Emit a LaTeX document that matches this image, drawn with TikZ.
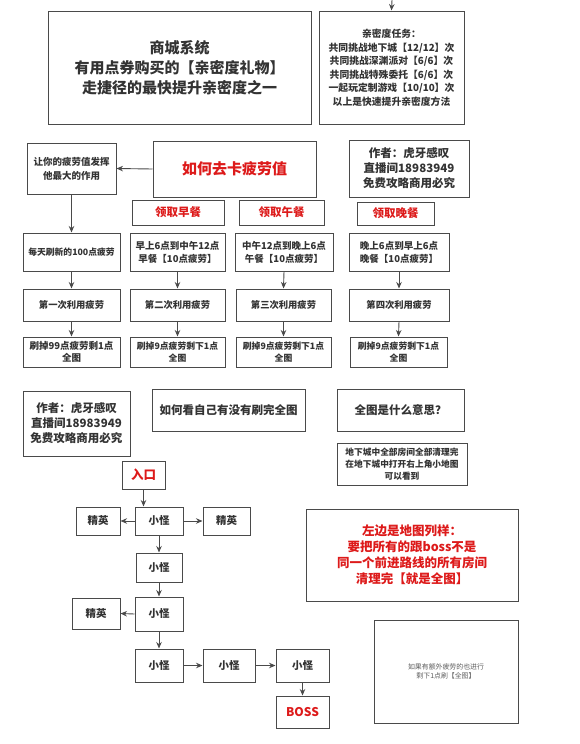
\documentclass[tikz,border=0pt]{standalone}
\usepackage{fontspec}
\setmainfont{Noto Sans CJK SC}
\usetikzlibrary{arrows.meta}
\definecolor{ln}{HTML}{4A4A4A}
\definecolor{tx}{HTML}{333333}
\definecolor{rd}{HTML}{DD1A1A}
\tikzset{
  bx/.style={draw=ln,line width=1pt,inner sep=0pt,align=center,text=tx,font=\bfseries},
  fs/.style 2 args={font={\fontsize{#1}{#2}\selectfont\bfseries}},
  red/.style={text=rd},
  arr/.style={draw=ln,line width=0.9pt,-{Stealth[length=6.5pt,width=5.5pt]}}
}
\newcommand{\bxat}[6]{\node[bx,minimum width=#4pt,minimum height=#5pt,#6] (#1) at (#2,#3)}
\begin{document}
\begin{tikzpicture}[x=1pt,y=-1pt]
\useasboundingbox (0,0) rectangle (580,744);
\fill[white] (0,0) rectangle (580,744);
% top
\bxat{shop}{179.5}{67.5}{263}{113}{fs={15}{20}}{商城系统\\有用点券购买的【亲密度礼物】\\走捷径的最快提升亲密度之一};
\bxat{task}{391.5}{67.5}{145}{113}{fs={9.8}{13.5}}{亲密度任务：\\共同挑战地下城【12/12】次\\共同挑战深渊派对【6/6】次\\共同挑战特殊委托【6/6】次\\一起玩定制游戏【10/10】次\\以上是快速提升亲密度方法};
\coordinate (top) at (392,0);
\draw[arr] (top) -- (task.north);
% row 2
\bxat{use}{71.5}{168.5}{89}{51}{fs={9.5}{14}}{让你的疲劳值发挥\\他最大的作用};
\bxat{how}{234.5}{169}{163}{56}{fs={15}{18},red}{如何去卡疲劳值};
\bxat{auth}{409}{168.5}{120}{57}{fs={11.5}{15}}{作者：虎牙感叹\\直播间18983949\\免费攻略商用必究};
\bxat{lb}{178}{212.5}{92}{25}{fs={11.5}{14},red}{领取早餐};
\bxat{ll}{281.5}{212.5}{85}{25}{fs={11.5}{14},red}{领取午餐};
\bxat{ld}{395.5}{213.5}{77}{23}{fs={11.5}{14},red}{领取晚餐};
\draw[arr] (how.west) -- (use.east);
% row 3
\bxat{a3}{71.5}{252}{97}{38}{fs={8.8}{12}}{每天刷新的100点疲劳};
\bxat{b3}{177.5}{252}{95}{38}{fs={9.5}{13}}{早上6点到中午12点\\早餐【10点疲劳】};
\bxat{c3}{284}{252}{98}{38}{fs={9.5}{13}}{中午12点到晚上6点\\午餐【10点疲劳】};
\bxat{d3}{399}{252}{100}{38}{fs={9.5}{13}}{晚上6点到早上6点\\晚餐【10点疲劳】};
% row 4
\bxat{a4}{71.5}{305}{97}{32}{fs={9.3}{12}}{第一次利用疲劳};
\bxat{b4}{177.5}{305}{95}{32}{fs={9.3}{12}}{第二次利用疲劳};
\bxat{c4}{283.5}{305}{95}{32}{fs={9.3}{12}}{第三次利用疲劳};
\bxat{d4}{399}{305}{100}{32}{fs={9.3}{12}}{第四次利用疲劳};
% row 5
\bxat{a5}{71.5}{352}{97}{30}{fs={9.5}{12}}{刷掉99点疲劳剩1点\\全图};
\bxat{b5}{177.5}{352}{95}{30}{fs={8.8}{12}}{刷掉9点疲劳剩下1点\\全图};
\bxat{c5}{283.5}{352}{95}{30}{fs={8.8}{12}}{刷掉9点疲劳剩下1点\\全图};
\bxat{d5}{398.5}{352}{97}{30}{fs={8.8}{12}}{刷掉9点疲劳剩下1点\\全图};
\draw[arr] (use.south) -- (a3.north);
\foreach \c in {a,b,c,d}{
  \draw[arr] (\c3.south) -- (\c4.north);
  \draw[arr] (\c4.south) -- (\c5.north);
}
% lower section
\bxat{auth2}{76.5}{423.5}{107}{65}{fs={11.5}{15}}{作者：虎牙感叹\\直播间18983949\\免费攻略商用必究};
\bxat{check}{228.5}{410}{153}{42}{fs={11.5}{14}}{如何看自己有没有刷完全图};
\bxat{mean}{400.5}{410}{127}{42}{fs={11.5}{14}}{全图是什么意思？};
\bxat{desc}{402}{464}{130}{42}{fs={8.7}{12}}{地下城中全部房间全部清理完\\在地下城中打开右上角小地图\\可以看到};
\bxat{entry}{143.5}{475}{43}{28}{fs={12.5}{14},red}{入口};
\bxat{m1}{159}{521}{48}{28}{fs={10.5}{12}}{小怪};
\bxat{eL}{98}{521}{44}{28}{fs={10.5}{12}}{精英};
\bxat{eR}{226.5}{521}{47}{28}{fs={10.5}{12}}{精英};
\bxat{m2}{159}{567.5}{46}{29}{fs={10.5}{12}}{小怪};
\bxat{m3}{159}{614}{48}{34}{fs={10.5}{12}}{小怪};
\bxat{e3}{96}{613.5}{48}{31}{fs={10.5}{12}}{精英};
\bxat{m4}{159}{665.5}{48}{33}{fs={10.5}{12}}{小怪};
\bxat{m5}{229}{665.5}{52}{33}{fs={10.5}{12}}{小怪};
\bxat{m6}{302.5}{665.5}{53}{33}{fs={10.5}{12}}{小怪};
\bxat{boss}{302.5}{712}{53}{32}{fs={12}{14},red}{BOSS};
\bxat{note}{412}{555}{212}{92}{fs={12.5}{16},red}{左边是地图列样：\\要把所有的跟boss不是\\同一个前进路线的所有房间\\清理完【就是全图】};
\node[draw=ln,line width=1pt,inner sep=0pt,minimum width=144pt,minimum height=103pt,align=center,text=tx!80,font={\fontsize{6.9}{9}\selectfont}] (final) at (446,671.5) {如果有额外疲劳的也进行\\剩下1点刷【全图】};
\draw[arr] (entry.south) -- (entry.south |- m1.north);
\draw[arr] (m1.west) -- (eL.east);
\draw[arr] (m1.east) -- (eR.west);
\draw[arr] (m1.south) -- (m2.north);
\draw[arr] (m2.south) -- (m3.north);
\draw[arr] (m3.west) -- (e3.east);
\draw[arr] (m3.south) -- (m4.north);
\draw[arr] (m4.east) -- (m5.west);
\draw[arr] (m5.east) -- (m6.west);
\draw[arr] (m6.south) -- (boss.north);
\end{tikzpicture}
\end{document}
